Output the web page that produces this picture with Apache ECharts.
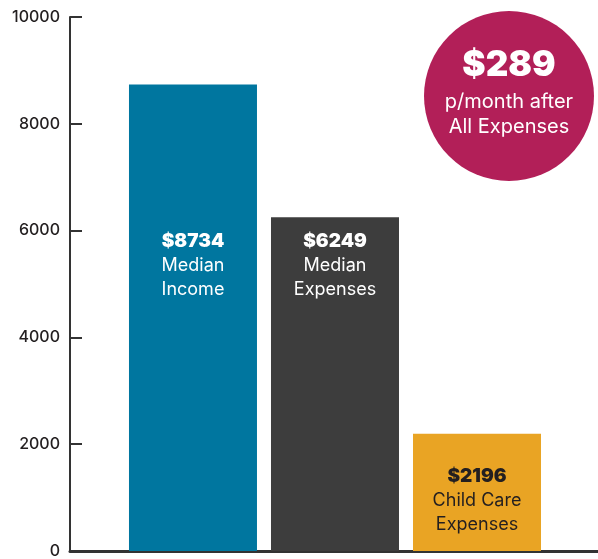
<!DOCTYPE html>
<html>
<head>
<meta charset="utf-8">
<script src="https://cdn.jsdelivr.net/npm/echarts@6/dist/echarts.min.js"></script>
<style>
  html, body { margin: 0; padding: 0; background: #fff; }
  #main { width: 598px; height: 559px; }
</style>
</head>
<body>
<div id="main"></div>
<script>
// categories and values
const categories = ['Median\nIncome', 'Median\nExpenses', 'Child Care\nExpenses'];
const values = [8734, 6249, 2196];
const barColors = ['#00769f', '#3d3d3d', '#e9a424'];
const labelColors = ['#ffffff', '#ffffff', '#231f20'];
// label top offset inside each bar (px)
const labelTops = [145, 12, 31];
const yTicks = [0, 2000, 4000, 6000, 8000, 10000];

const leftOver = values[0] - values[1] - values[2];

const chart = echarts.init(document.getElementById('main'));
const font = 'Inter, "Open Sans", sans-serif';

const option = {
  animation: false,
  grid: { left: 70, right: 0, top: 17, bottom: 7 },
  xAxis: {
    type: 'value',
    min: -0.866,
    max: 2.852,
    axisLine: { show: true, lineStyle: { color: '#333', width: 3 } },
    axisTick: { show: false },
    axisLabel: { show: false },
    splitLine: { show: false }
  },
  yAxis: {
    type: 'value',
    min: yTicks[0],
    max: yTicks[yTicks.length - 1],
    interval: 2000,
    axisLine: { show: true, onZero: false, lineStyle: { color: '#333', width: 2 } },
    axisTick: { show: true, inside: true, length: 12, lineStyle: { color: '#333', width: 2 } },
    axisLabel: {
      color: '#231f20', fontSize: 16, fontWeight: 500, fontFamily: font, margin: 10,
      padding: [6, 0, 0, 0],
      formatter: (v) => String(v)
    },
    splitLine: { show: false }
  },
  series: [{
    type: 'bar',
    barWidth: 128,
    data: values.map((v, i) => ({
      value: [i, v],
      itemStyle: { color: barColors[i] },
      label: {
        show: true,
        position: ['50%', labelTops[i]],
        align: 'center',
        verticalAlign: 'top',
        color: labelColors[i],
        formatter: '{v|$' + v + '}\n{t|' + categories[i].split('\n').join('}\n{t|') + '}',
        rich: {
          v: { fontSize: 19, fontWeight: 900, fontFamily: font, lineHeight: 24, color: labelColors[i] },
          t: { fontSize: 18, fontWeight: 400, fontFamily: font, lineHeight: 24, color: labelColors[i] }
        }
      }
    }))
  }],
  graphic: [
    {
      type: 'circle',
      shape: { cx: 509, cy: 96, r: 85 },
      style: { fill: '#b21f58' }
    },
    {
      type: 'text',
      x: 509, y: 65,
      style: {
        text: '$' + leftOver,
        fill: '#fff',
        font: '900 35px ' + font,
        textAlign: 'center',
        textVerticalAlign: 'middle'
      }
    },
    {
      type: 'text',
      x: 509, y: 102,
      style: {
        text: 'p/month after',
        fill: '#fff',
        font: '400 20px ' + font,
        textAlign: 'center',
        textVerticalAlign: 'middle'
      }
    },
    {
      type: 'text',
      x: 509, y: 127,
      style: {
        text: 'All Expenses',
        fill: '#fff',
        font: '400 20px ' + font,
        textAlign: 'center',
        textVerticalAlign: 'middle'
      }
    }
  ]
};

chart.setOption(option);
</script>
</body>
</html>
